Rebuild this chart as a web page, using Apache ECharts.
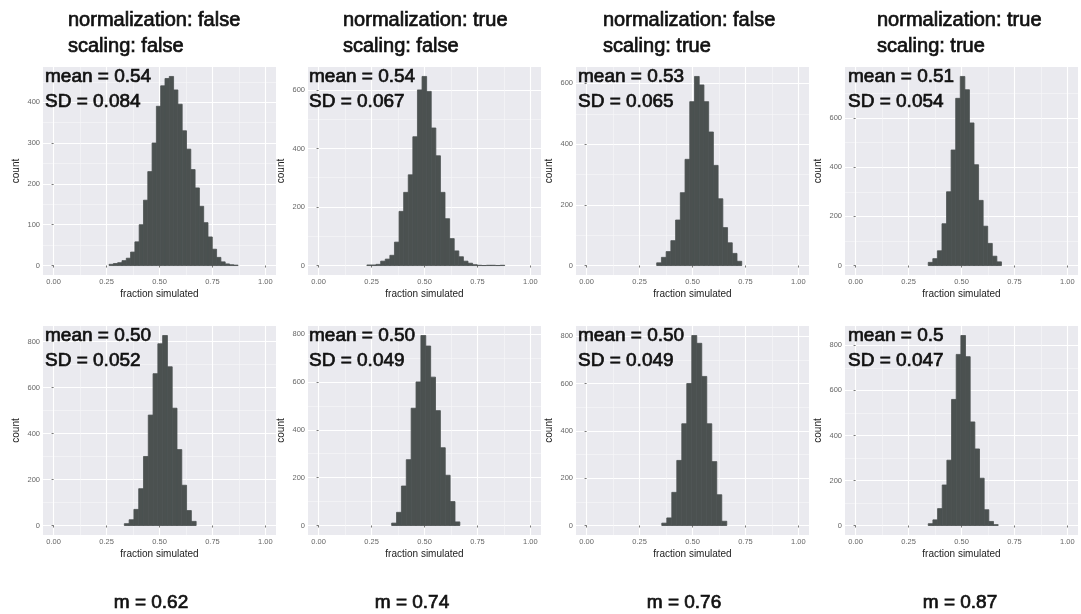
<!DOCTYPE html>
<html><head><meta charset="utf-8">
<script src="https://cdn.jsdelivr.net/npm/echarts@6/dist/echarts.min.js"></script>
<style>html,body{margin:0;padding:0;background:#fff}#c{width:1081px;height:614px}</style>
</head><body><div id="c"></div>
<script>
// ---------- data ----------
const titlesLine1 = ['normalization: false', 'normalization: true', 'normalization: false', 'normalization: true'];
const titlesLine2 = ['scaling: false', 'scaling: false', 'scaling: true', 'scaling: true'];
const meanLabels = ['mean = 0.54', 'mean = 0.54', 'mean = 0.53', 'mean = 0.51', 'mean = 0.50', 'mean = 0.50', 'mean = 0.50', 'mean = 0.5'];
const sdLabels = ['SD = 0.084', 'SD = 0.067', 'SD = 0.065', 'SD = 0.054', 'SD = 0.052', 'SD = 0.049', 'SD = 0.049', 'SD = 0.047'];
const mLabels = ['m = 0.62', 'm = 0.74', 'm = 0.76', 'm = 0.87'];
const xTicks = [0, 0.25, 0.5, 0.75, 1];
const yTicksSmall = [0, 100, 200, 300, 400];
const yTicksMid = [0, 200, 400, 600];
const yTicksLarge = [0, 200, 400, 600, 800];
const binStart = [0.262, 0.228, 0.331, 0.343, 0.334, 0.345, 0.355, 0.343];
const binWidth = [0.0203, 0.0217, 0.0223, 0.0216, 0.0226, 0.0230, 0.0236, 0.0220];
const counts1 = [3,5,7,12,18,33,58,100,160,230,300,390,440,458,463,430,395,330,285,235,190,145,105,70,40,20,9,4,2,1];
const counts2 = [2,2,4,15,22,35,80,185,250,310,440,600,646,595,470,375,250,160,92,50,30,15,8,3,1,0,1,1,0,1];
const counts3 = [9,27,46,82,150,240,350,540,623,595,540,440,330,220,125,75,40,14];
const counts4 = [13,28,60,170,300,470,680,769,715,580,410,265,160,90,38,15];
const counts5 = [8,25,70,160,300,480,660,790,826,690,510,330,175,65,18];
const counts6 = [10,55,165,275,490,600,794,750,620,480,325,210,100,15];
const counts7 = [10,32,140,275,430,600,803,770,630,430,270,130,18];
const counts8 = [8,25,75,180,290,560,760,844,750,460,340,210,70,18,4];

const allCounts = [counts1, counts2, counts3, counts4, counts5, counts6, counts7, counts8];
const allYTicks = [yTicksSmall, yTicksMid, yTicksMid, yTicksMid, yTicksLarge, yTicksLarge, yTicksLarge, yTicksLarge];

// ---------- layout / style ----------
const colLeft = [43, 308, 576, 845];
const panelW = 233;
const rowTop = [67, 326];
const panelH = [208, 209];
const EXP = 0.05;
const PANEL = '#EAEAEF';
const BAR = '#4B5150';
const FONT = 'Liberation Sans, Arial, sans-serif';
const titleX = [68, 343, 603, 877];
const annX = [45, 309, 578, 848];
const annY = [[77, 102], [336, 361]];
const mX = [151, 412, 684, 960];

const chart = echarts.init(document.getElementById('c'), null, {renderer: 'canvas'});
const grids = [], xAxes = [], yAxes = [], series = [], graphic = [];

function txt(x, y, text, size, align) {
  return {type: 'text', x: x, y: y, z: 100,
    style: {text: text, font: size + 'px ' + FONT, fill: '#111', stroke: '#111', lineWidth: 0.7,
      verticalAlign: 'middle', align: align}};
}

for (let p = 0; p < 8; p++) {
  const col = p % 4, row = Math.floor(p / 4);
  grids.push({left: colLeft[col], top: rowTop[row], width: panelW, height: panelH[row],
    show: true, backgroundColor: PANEL, borderWidth: 0, containLabel: false});
  const counts = allCounts[p];
  const peak = Math.max.apply(null, counts);
  const yT = allYTicks[p];
  const step = yT[1] - yT[0];
  const ymin = -EXP * peak, ymax = (1 + EXP) * peak;
  const xStep = xTicks[1] - xTicks[0];

  xAxes.push({gridIndex: p, type: 'value', min: -EXP, max: 1 + EXP, minInterval: xStep, maxInterval: xStep,
    position: 'bottom',
    name: 'fraction simulated', nameLocation: 'middle', nameGap: 14,
    nameTextStyle: {fontSize: 10, color: '#222', fontFamily: FONT},
    axisLine: {show: false},
    axisTick: {show: true, length: 2, lineStyle: {color: '#555', width: 0.8}, customValues: xTicks},
    axisLabel: {fontSize: 7.5, color: '#666', margin: 3, fontFamily: FONT,
      customValues: xTicks, formatter: v => v.toFixed(2)},
    splitLine: {show: true, lineStyle: {color: '#ffffff', width: 1.1}}
  });
  const xMinor = xTicks.slice(0, -1);
  xAxes.push({gridIndex: p, type: 'value', min: -EXP - xStep / 2, max: 1 + EXP - xStep / 2,
    minInterval: xStep, maxInterval: xStep, position: 'top',
    axisLine: {show: false}, axisTick: {show: false, customValues: xMinor}, axisLabel: {show: false, customValues: xMinor},
    splitLine: {show: true, lineStyle: {color: '#f6f6f8', width: 0.6}}
  });
  yAxes.push({gridIndex: p, type: 'value', min: ymin, max: ymax, minInterval: step, maxInterval: step,
    position: 'left',
    name: 'count', nameLocation: 'middle', nameGap: 22,
    nameTextStyle: {fontSize: 10, color: '#222', fontFamily: FONT},
    axisLine: {show: false},
    axisTick: {show: true, length: 2, lineStyle: {color: '#555', width: 0.8}, customValues: yT},
    axisLabel: {fontSize: 7.5, color: '#666', margin: 3, fontFamily: FONT,
      customValues: yT, formatter: v => String(Math.round(v))},
    splitLine: {show: true, lineStyle: {color: '#ffffff', width: 1.1}}
  });
  const yMinor = [];
  for (let k = 0; (k + 0.5) * step < ymax; k++) yMinor.push(k * step);
  yAxes.push({gridIndex: p, type: 'value', min: ymin - step / 2, max: ymax - step / 2,
    minInterval: step, maxInterval: step, position: 'right',
    axisLine: {show: false}, axisTick: {show: false, customValues: yMinor}, axisLabel: {show: false, customValues: yMinor},
    splitLine: {show: true, lineStyle: {color: '#f6f6f8', width: 0.6}}
  });

  const data = counts.map((c, i) => [binStart[p] + i * binWidth[p], binStart[p] + (i + 1) * binWidth[p], c]);
  series.push({
    type: 'custom', xAxisIndex: 2 * p, yAxisIndex: 2 * p, z: 5, silent: true,
    encode: {x: [0, 1], y: 2},
    renderItem: function (params, api) {
      const a = api.coord([api.value(0), api.value(2)]);
      const b = api.coord([api.value(1), 0]);
      return {type: 'rect', shape: {x: a[0], y: a[1], width: b[0] - a[0], height: b[1] - a[1]},
        style: {fill: BAR, stroke: BAR, lineWidth: 0.8}};
    },
    data: data
  });

  graphic.push(txt(annX[col], annY[row][0], meanLabels[p], 19, 'left'));
  graphic.push(txt(annX[col], annY[row][1], sdLabels[p], 19, 'left'));
}

for (let c = 0; c < 4; c++) {
  graphic.push(txt(titleX[c], 20, titlesLine1[c], 20, 'left'));
  graphic.push(txt(titleX[c], 46, titlesLine2[c], 20, 'left'));
  graphic.push(txt(mX[c], 603, mLabels[c], 19, 'center'));
}

chart.setOption({
  animation: false,
  backgroundColor: '#ffffff',
  grid: grids, xAxis: xAxes, yAxis: yAxes, series: series, graphic: graphic
});
</script></body></html>
